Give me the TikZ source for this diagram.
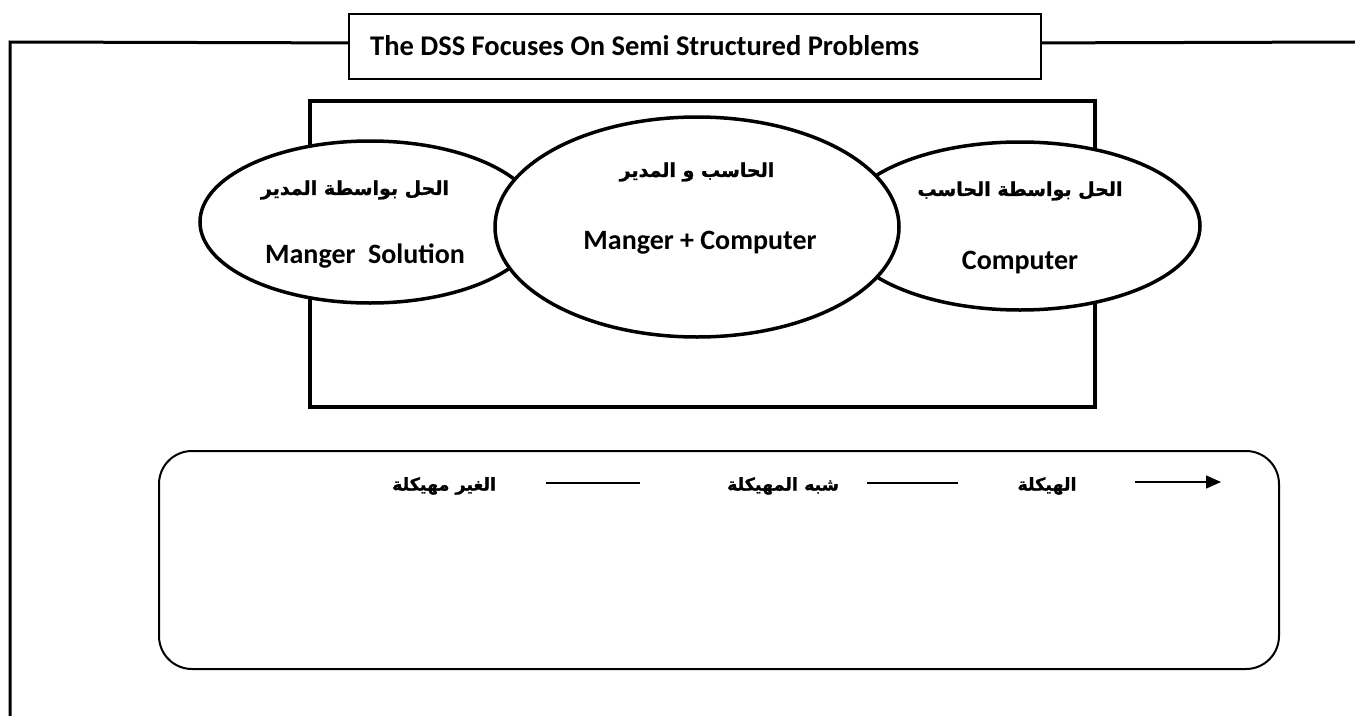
\documentclass[tikz,border=0pt]{standalone}
\usepackage{fontspec}
\setmainfont{Carlito}
\newfontfamily\arabicfont[Script=Arabic,BoldFeatures={FakeBold=1.2}]{DejaVu Sans}
\TeXXeTstate=1
\usetikzlibrary{shapes.geometric,arrows.meta}

\newcommand{\ar}[1]{{\arabicfont\bfseries\beginR #1\endR}}

\begin{document}
\begin{tikzpicture}[x=1pt,y=-1pt,
  frameline/.style={line width=3pt},
  titlebox/.style={draw, line width=1.8pt, rectangle, anchor=north west,
    minimum width=692pt, minimum height=65pt},
  titletxt/.style={anchor=west, inner sep=0pt, font=\fontsize{28.5}{34}\selectfont\bfseries},
  panel/.style={draw, line width=4pt, rectangle, anchor=north west,
    minimum width=785pt, minimum height=306pt},
  oval/.style={draw, ellipse, fill=white, line width=3.5pt, inner sep=0pt},
  entxt/.style={font=\fontsize{28}{32}\selectfont\bfseries, inner sep=0pt},
  artxt/.style={font=\fontsize{19}{24}\selectfont, inner sep=0pt},
  scaletxt/.style={font=\fontsize{17.5}{22}\selectfont, inner sep=0pt},
  roundbox/.style={draw, line width=2pt, rectangle, rounded corners=33pt,
    anchor=north west, minimum width=1120pt, minimum height=218pt},
  thinline/.style={line width=1.5pt}
]
\useasboundingbox (0,0) rectangle (1355,715);

% heading box and the frame running out of it
\node[titlebox] (title) at (348,13) {};
\node[titletxt] (titleText) at (370,46) {The DSS Focuses On Semi Structured Problems};
\coordinate (frameTL) at (10,42);
\coordinate (frameBL) at (10,720);
\coordinate (frameR) at (1360,42);
\draw[frameline] ([yshift=3.5pt]title.west) -- (frameTL) -- (frameBL);
\draw[frameline] ([yshift=3.5pt]title.east) -- (frameR);

% panel holding the three solution ovals
\node[panel] (panel) at (308,99) {};

\node[oval, minimum width=340pt, minimum height=162pt] (mgr) at (370,222) {};
\node[oval, minimum width=360pt, minimum height=168pt] (cmp) at (1020,226) {};
\node[oval, minimum width=404pt, minimum height=220pt] (both) at (697,227) {};

\node[artxt] (mgrAr) at (355,190) {\ar{الحل بواسطة المدير}};
\node[entxt] (mgrEn) at (365,256) {Manger\ \ Solution};

\node[artxt] (bothAr) at (697,172) {\ar{الحاسب و المدير}};
\node[entxt] (bothEn) at (700,243) {Manger + Computer};

\node[artxt] (cmpAr) at (1020,191) {\ar{الحل بواسطة الحاسب}};
\node[entxt] (cmpEn) at (1020,263) {Computer};

% structure scale
\node[roundbox] (scale) at (158,450) {};

\node[scaletxt] (uns) at (444,486) {\ar{الغير مهيكلة}};
\node[scaletxt] (semi) at (783,486) {\ar{شبه المهيكلة}};
\node[scaletxt] (str) at (1047,486) {\ar{الهيكلة}};

\coordinate (l1a) at (546,483);
\coordinate (l1b) at (640,483);
\coordinate (l2a) at (867,483);
\coordinate (l2b) at (958,483);
\coordinate (l3a) at (1135,482);
\coordinate (l3b) at (1221,482);
\draw[thinline] (l1a) -- (l1b);
\draw[thinline] (l2a) -- (l2b);
\draw[thinline, -{Triangle[length=15pt,width=13pt]}] (l3a) -- (l3b);
\end{tikzpicture}
\end{document}
